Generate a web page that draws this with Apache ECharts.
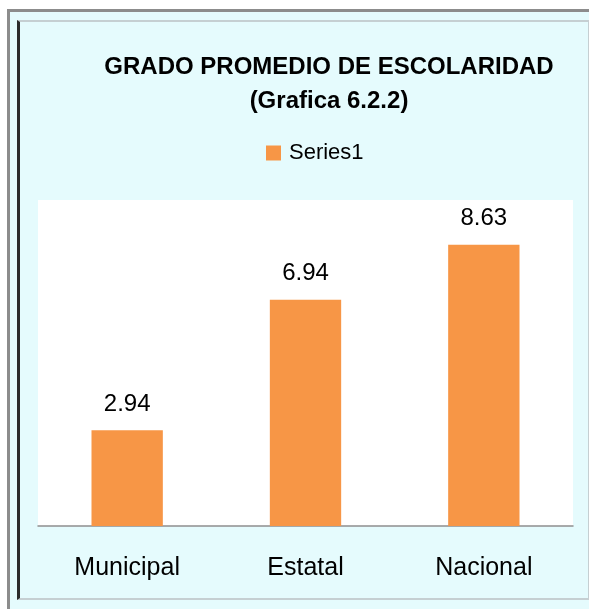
<!DOCTYPE html>
<html>
<head>
<meta charset="utf-8">
<script src="https://cdn.jsdelivr.net/npm/echarts@6/dist/echarts.min.js"></script>
<style>
  html, body { margin: 0; padding: 0; background: #fff; }
  #outer { position: absolute; left: 7px; top: 9px; width: 600px; height: 600px;
    border-top: 3px solid #8c8c8c; border-left: 3px solid #8c8c8c; background: #e5fbfd; }
  #inner { position: absolute; left: 17px; top: 20px; width: 568px; height: 576px;
    border-left: 3px solid #2b2b2b; border-top: 2px solid #c5cfd2;
    border-right: 1px solid #c5cfd2; border-bottom: 2px solid #c5cfd2; }
  #chart { position: absolute; left: 0; top: 0; width: 589px; height: 609px; }
</style>
</head>
<body>
<div id="outer"></div>
<div id="inner"></div>
<div id="chart"></div>
<script>
const categories = ['Municipal', 'Estatal', 'Nacional']
const values = [2.94, 6.94, 8.63]
const seriesName = 'Series1'

const chart = echarts.init(document.getElementById('chart'))

chart.setOption({
  animation: false,
  backgroundColor: 'transparent',
  title: {
    text: 'GRADO PROMEDIO DE ESCOLARIDAD\n(Grafica 6.2.2)',
    left: 324,
    top: 45,
    textAlign: 'center',
    textStyle: {
      fontFamily: 'Liberation Sans',
      fontWeight: 'bold',
      fontSize: 24,
      lineHeight: 34,
      color: '#000',
    },
  },
  legend: {
    data: [seriesName],
    left: 261,
    top: 137,
    itemWidth: 15,
    itemHeight: 15,
    icon: 'rect',
    textStyle: { fontFamily: 'Liberation Sans', fontSize: 22, color: '#000', padding: [0, 0, 0, 3] },
  },
  grid: {
    left: 38, right: 16, top: 200, bottom: 83,
    show: true, backgroundColor: '#fff', borderWidth: 0,
  },
  xAxis: {
    type: 'category',
    data: categories,
    axisLine: { lineStyle: { color: '#8f8f8f', width: 1.5 } },
    axisTick: { show: false },
    axisLabel: { margin: 30, fontFamily: 'Liberation Sans', fontSize: 25, color: '#000' },
  },
  yAxis: {
    type: 'value',
    min: 0,
    max: 10,
    show: false,
    splitLine: { show: false },
  },
  series: [{
    name: seriesName,
    type: 'bar',
    data: values,
    barWidth: '40%',
    itemStyle: { color: '#f79646' },
    label: {
      show: true,
      position: 'top',
      distance: 14,
      fontFamily: 'Liberation Sans',
      fontSize: 24,
      color: '#000',
    },
  }],
})
</script>
</body>
</html>
